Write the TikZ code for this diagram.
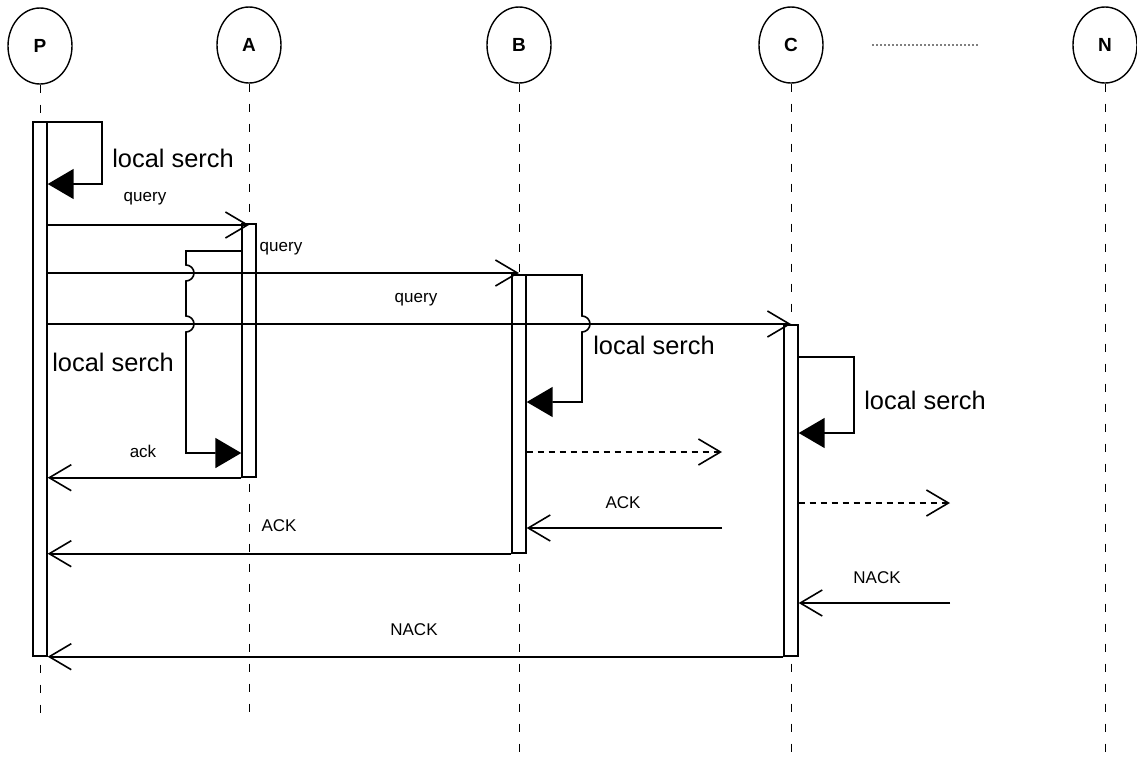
\documentclass[tikz,border=0pt]{standalone}
\usepackage{fontspec}
\setmainfont{Liberation Sans}
\usetikzlibrary{positioning, arrows.meta, shapes.geometric}
\begin{document}
\begin{tikzpicture}[x=0.5pt, y=-0.5pt,
  actor/.style={draw, ellipse, minimum width=32pt, minimum height=38pt, inner sep=0pt,
                font=\fontsize{9.5}{10}\selectfont\bfseries, line width=0.7pt},
  life/.style={dash pattern=on 4pt off 6pt, line width=0.5pt},
  bar/.style={draw, fill=white, minimum width=7pt, inner sep=0pt, line width=0.7pt},
  msg/.style={-{Straight Barb[length=11pt, width=13pt, line width=0.8pt]}, line width=0.8pt},
  reply/.style={msg, dash pattern=on 3pt off 2.5pt},
  self/.style={-{Triangle[length=13pt, width=15pt]}, line width=0.8pt},
  lbl/.style={font=\fontsize{8.5}{10}\selectfont, inner sep=1pt},
  big/.style={font=\fontsize{12.7}{14}\selectfont, inner sep=1pt}]
  \useasboundingbox (0,0) rectangle (1137,761);
  % actors
  \node[actor] (P) at (40,46) {P};
  \node[actor] (A) at (249,45) {A};
  \node[actor] (B) at (519,45) {B};
  \node[actor] (C) at (791,45) {C};
  \node[actor] (N) at (1105,45) {N};
  \coordinate (dotL) at (872,45); \coordinate (dotR) at (978,45);
  \draw[gray, line width=0.6pt, dash pattern=on 1pt off 1pt] (dotL) -- (dotR);
  % lifelines
  \draw[life] (P.south) -- (P |- 0,723);
  \draw[life] (A.south) -- (A |- 0,723);
  \draw[life] (B.south) -- (B |- 0,757);
  \draw[life] (C.south) -- (C |- 0,757);
  \draw[life] (N.south) -- (N |- 0,757);
  % activation bars
  \node[bar, minimum height=267pt] (actP) at (40,389) {};
  \node[bar, minimum height=126.5pt] (actA) at (249,350.5) {};
  \node[bar, minimum height=139pt] (actB) at (519,414) {};
  \node[bar, minimum height=165.5pt] (actC) at (791,490.5) {};
  % local searches
  \draw[self] (actP.east |- 0,122) -- (102,122) -- (102,184) -- (actP.east |- 0,184);
  \node[big] (lsP) at (173,158) {local serch};
  \draw[self] (actA.west |- 0,251) -- (186,251) -- (186,265) arc[start angle=90, end angle=-90, radius=4pt]
    -- (186,316) arc[start angle=90, end angle=-90, radius=4pt] -- (186,453) -- (actA.west |- 0,453);
  \node[big] (lsA) at (113,362) {local serch};
  \draw[self] (actB.east |- 0,275) -- (582,275) -- (582,316) arc[start angle=90, end angle=-90, radius=4pt]
    -- (582,402) -- (actB.east |- 0,402);
  \node[big] (lsB) at (654,345) {local serch};
  \draw[self] (actC.east |- 0,357) -- (854,357) -- (854,433) -- (actC.east |- 0,433);
  \node[big] (lsC) at (925,400) {local serch};
  % queries
  \draw[msg] (actP.east |- 0,225) -- (A |- 0,225);
  \node[lbl] (q1) at (145,199) {query};
  \draw[msg] (actP.east |- 0,273) -- (B |- 0,273);
  \node[lbl] (q2) at (281,249) {query};
  \draw[msg] (actP.east |- 0,324) -- (C |- 0,324);
  \node[lbl] (q3) at (416,300) {query};
  % answers
  \draw[msg] (actA.south west) -- (actP.east |- actA.south);
  \node[lbl] (ack) at (143,451) {ack};
  \coordinate (outB) at (722,452); \coordinate (inB) at (722,528);
  \draw[reply] (actB.east |- outB) -- (outB);
  \draw[msg] (inB) -- (actB.east |- inB);
  \node[lbl] (ackB) at (623,503) {ACK};
  \draw[msg] (actB.south west) -- (actP.east |- actB.south);
  \node[lbl] (ackP) at (279,526) {ACK};
  \coordinate (outC) at (950,503); \coordinate (inC) at (950,603);
  \draw[reply] (actC.east |- outC) -- (outC);
  \draw[msg] (inC) -- (actC.east |- inC);
  \node[lbl] (nackC) at (877,578) {NACK};
  \draw[msg] (actC.south west) -- (actP.east |- actC.south);
  \node[lbl] (nackP) at (414,630) {NACK};
\end{tikzpicture}
\end{document}
